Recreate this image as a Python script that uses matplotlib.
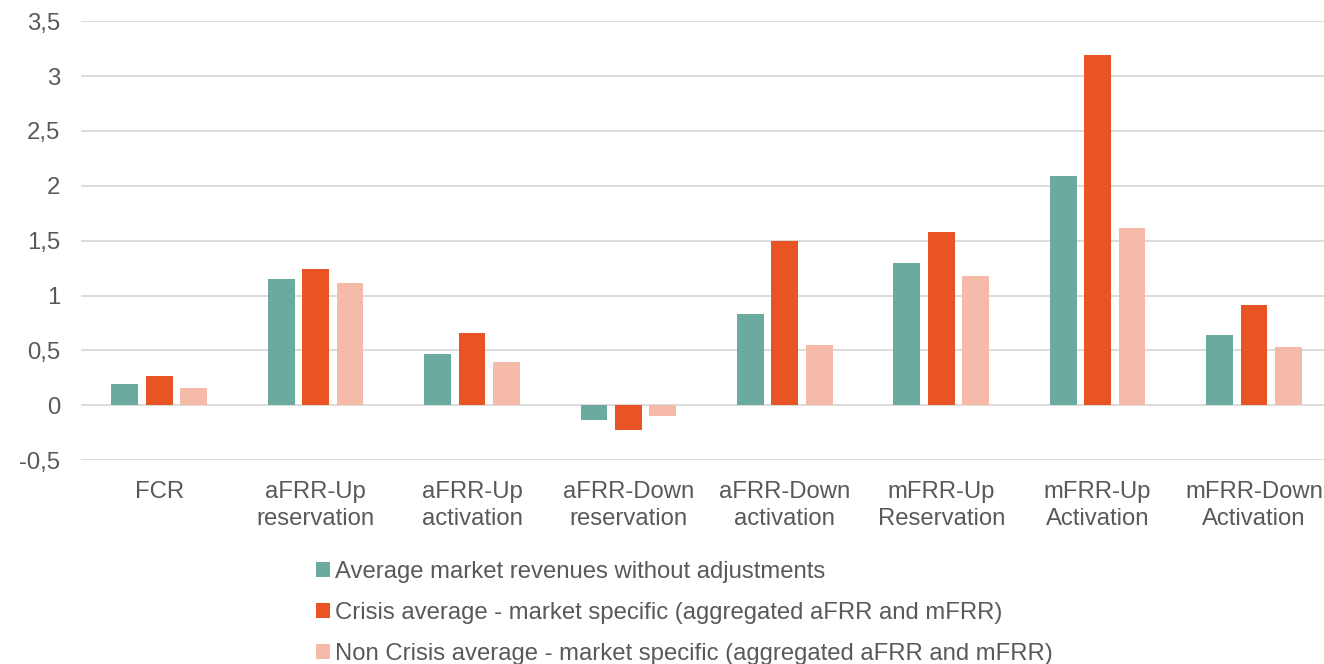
import numpy as np
import matplotlib.pyplot as plt
from matplotlib.ticker import FuncFormatter

plt.rcParams['font.family'] = ['Liberation Sans', 'DejaVu Sans']

categories = ['FCR', 'aFRR-Up\nreservation', 'aFRR-Up\nactivation', 'aFRR-Down\nreservation',
              'aFRR-Down\nactivation', 'mFRR-Up\nReservation', 'mFRR-Up\nActivation', 'mFRR-Down\nActivation']
avg_no_adj = [0.19, 1.15, 0.47, -0.135, 0.83, 1.30, 2.09, 0.645]
crisis_avg = [0.27, 1.24, 0.66, -0.225, 1.50, 1.575, 3.19, 0.91]
non_crisis_avg = [0.155, 1.11, 0.39, -0.10, 0.545, 1.18, 1.62, 0.535]

labels = ['Average market revenues without adjustments',
          'Crisis average - market specific (aggregated aFRR and mFRR)',
          'Non Crisis average - market specific (aggregated aFRR and mFRR)']
colors = ['#6AAA9F', '#E95425', '#F6BBA8']
text_col = '#595959'
fs = 17.2

fig = plt.figure(figsize=(13.24, 6.64), dpi=100)
ax = fig.add_axes([0.0612, 0.307, 0.945, 0.661])

x = np.arange(len(categories))
w = 0.172
step = 0.22
for i, (vals, c, lab) in enumerate(zip([avg_no_adj, crisis_avg, non_crisis_avg], colors, labels)):
    ax.bar(x + (i - 1) * step, vals, w, color=c, label=lab, zorder=3)

ax.set_xlim(-0.5, len(categories) - 0.5)
ax.set_ylim(-0.5, 3.5)
ax.set_yticks(np.arange(-0.5, 3.51, 0.5))
ax.yaxis.set_major_formatter(FuncFormatter(lambda v, p: ('%g' % v).replace('.', ',')))
ax.grid(axis='y', color='#D9D9D9', linewidth=1.3, zorder=0)
for s in ax.spines.values():
    s.set_visible(False)
ax.set_xticks(x)
ax.set_xticklabels(categories, linespacing=1.3)
ax.tick_params(axis='both', length=0, labelsize=fs, colors=text_col)
ax.tick_params(axis='x', pad=15)
ax.tick_params(axis='y', pad=15)

h, l = ax.get_legend_handles_labels()
leg = fig.legend(h, l, loc='upper left', bbox_to_anchor=(0.2387, 0.155), frameon=False,
                 fontsize=fs, handlelength=0.6, handleheight=0.6, handletextpad=0.2,
                 labelspacing=0.8, borderpad=0, borderaxespad=0)
for t in leg.get_texts():
    t.set_color(text_col)

fig.savefig('out.png', dpi=100)
